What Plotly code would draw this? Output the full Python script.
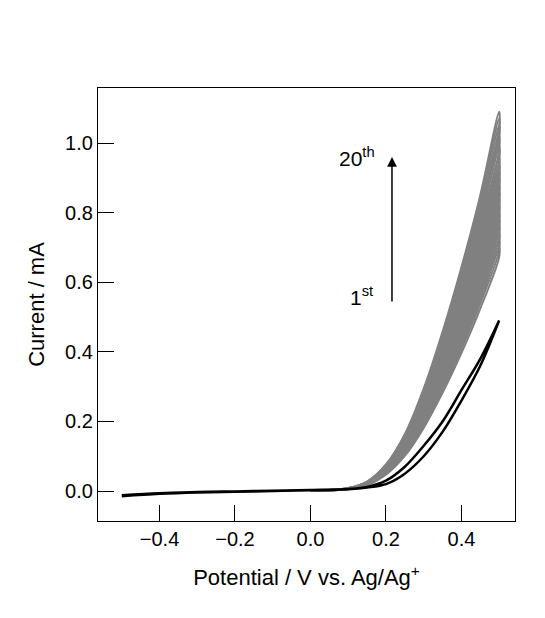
import plotly.graph_objects as go

# potential grid (V) read along the sweep
E = [-0.5, -0.4, -0.3, -0.2, -0.1, 0.0, 0.1, 0.15, 0.2, 0.25, 0.3, 0.35, 0.4, 0.45, 0.5]
# 1st cycle forward / reverse currents (mA)
first_fwd = [-0.015, -0.008, -0.004, -0.002, 0.0, 0.002, 0.005, 0.01, 0.02, 0.05, 0.10, 0.17, 0.26, 0.36, 0.49]
first_rev = [-0.012, -0.006, -0.003, -0.001, 0.001, 0.003, 0.006, 0.012, 0.03, 0.07, 0.13, 0.20, 0.29, 0.38, 0.49]
# peak current at 0.5 V for cycles 2..20 (mA)
peaks = [0.70, 0.72, 0.74, 0.76, 0.78, 0.80, 0.82, 0.84, 0.86, 0.88, 0.90, 0.92, 0.94, 0.96, 0.99, 1.02, 1.05, 1.07, 1.09]
# normalized shape of later cycles (fraction of peak) on the E grid
shape = [0.0, 0.0, 0.0, 0.0, 0.0, 0.002, 0.008, 0.025, 0.07, 0.15, 0.27, 0.42, 0.59, 0.78, 1.0]

fig = go.Figure()
for pk in peaks:
    y = [s * pk for s in shape]
    xs = E[5:] + E[5:][::-1]
    ys = y[5:] + [v * 0.96 for v in y[5:]][::-1]
    fig.add_trace(go.Scatter(x=xs, y=ys, mode="lines", line=dict(color="#808080", width=2, shape="spline"), showlegend=False))
fig.add_trace(go.Scatter(x=E + E[::-1], y=first_fwd + first_rev[::-1], mode="lines",
                         line=dict(color="black", width=2.5, shape="spline"), showlegend=False))

fig.add_annotation(x=0.216, y=0.96, ax=0.216, ay=0.54, xref="x", yref="y", axref="x", ayref="y",
                   text="", showarrow=True, arrowhead=2, arrowsize=1.3, arrowwidth=1.5, arrowcolor="black")
fig.add_annotation(x=0.17, y=0.56, text="1<sup>st</sup>", showarrow=False, xanchor="right", font=dict(size=21))
fig.add_annotation(x=0.175, y=0.96, text="20<sup>th</sup>", showarrow=False, xanchor="right", font=dict(size=21))

ax = dict(showline=True, linecolor="black", linewidth=1.2, mirror=True, ticks="inside", ticklen=16,
          tickcolor="black", showgrid=False, zeroline=False, automargin=False,
          tickfont=dict(size=20, color="black"))
fig.update_xaxes(**ax, range=[-0.563, 0.542], tickvals=[-0.4, -0.2, 0.0, 0.2, 0.4], tickformat=".1f",
                 title=dict(text="Potential / V vs. Ag/Ag<sup>+</sup>", font=dict(size=22, color="black"), standoff=20))
fig.update_yaxes(**ax, range=[-0.086, 1.158], tickvals=[0, 0.2, 0.4, 0.6, 0.8, 1.0], tickformat=".1f",
                 title=dict(text="Current / mA", font=dict(size=22, color="black"), standoff=14))
fig.update_layout(width=545, height=618, plot_bgcolor="white", paper_bgcolor="white",
                  font=dict(family="Liberation Sans, Arial, sans-serif", color="black"),
                  margin=dict(l=90, r=38, t=80, b=105))
fig.write_html("out.html")
